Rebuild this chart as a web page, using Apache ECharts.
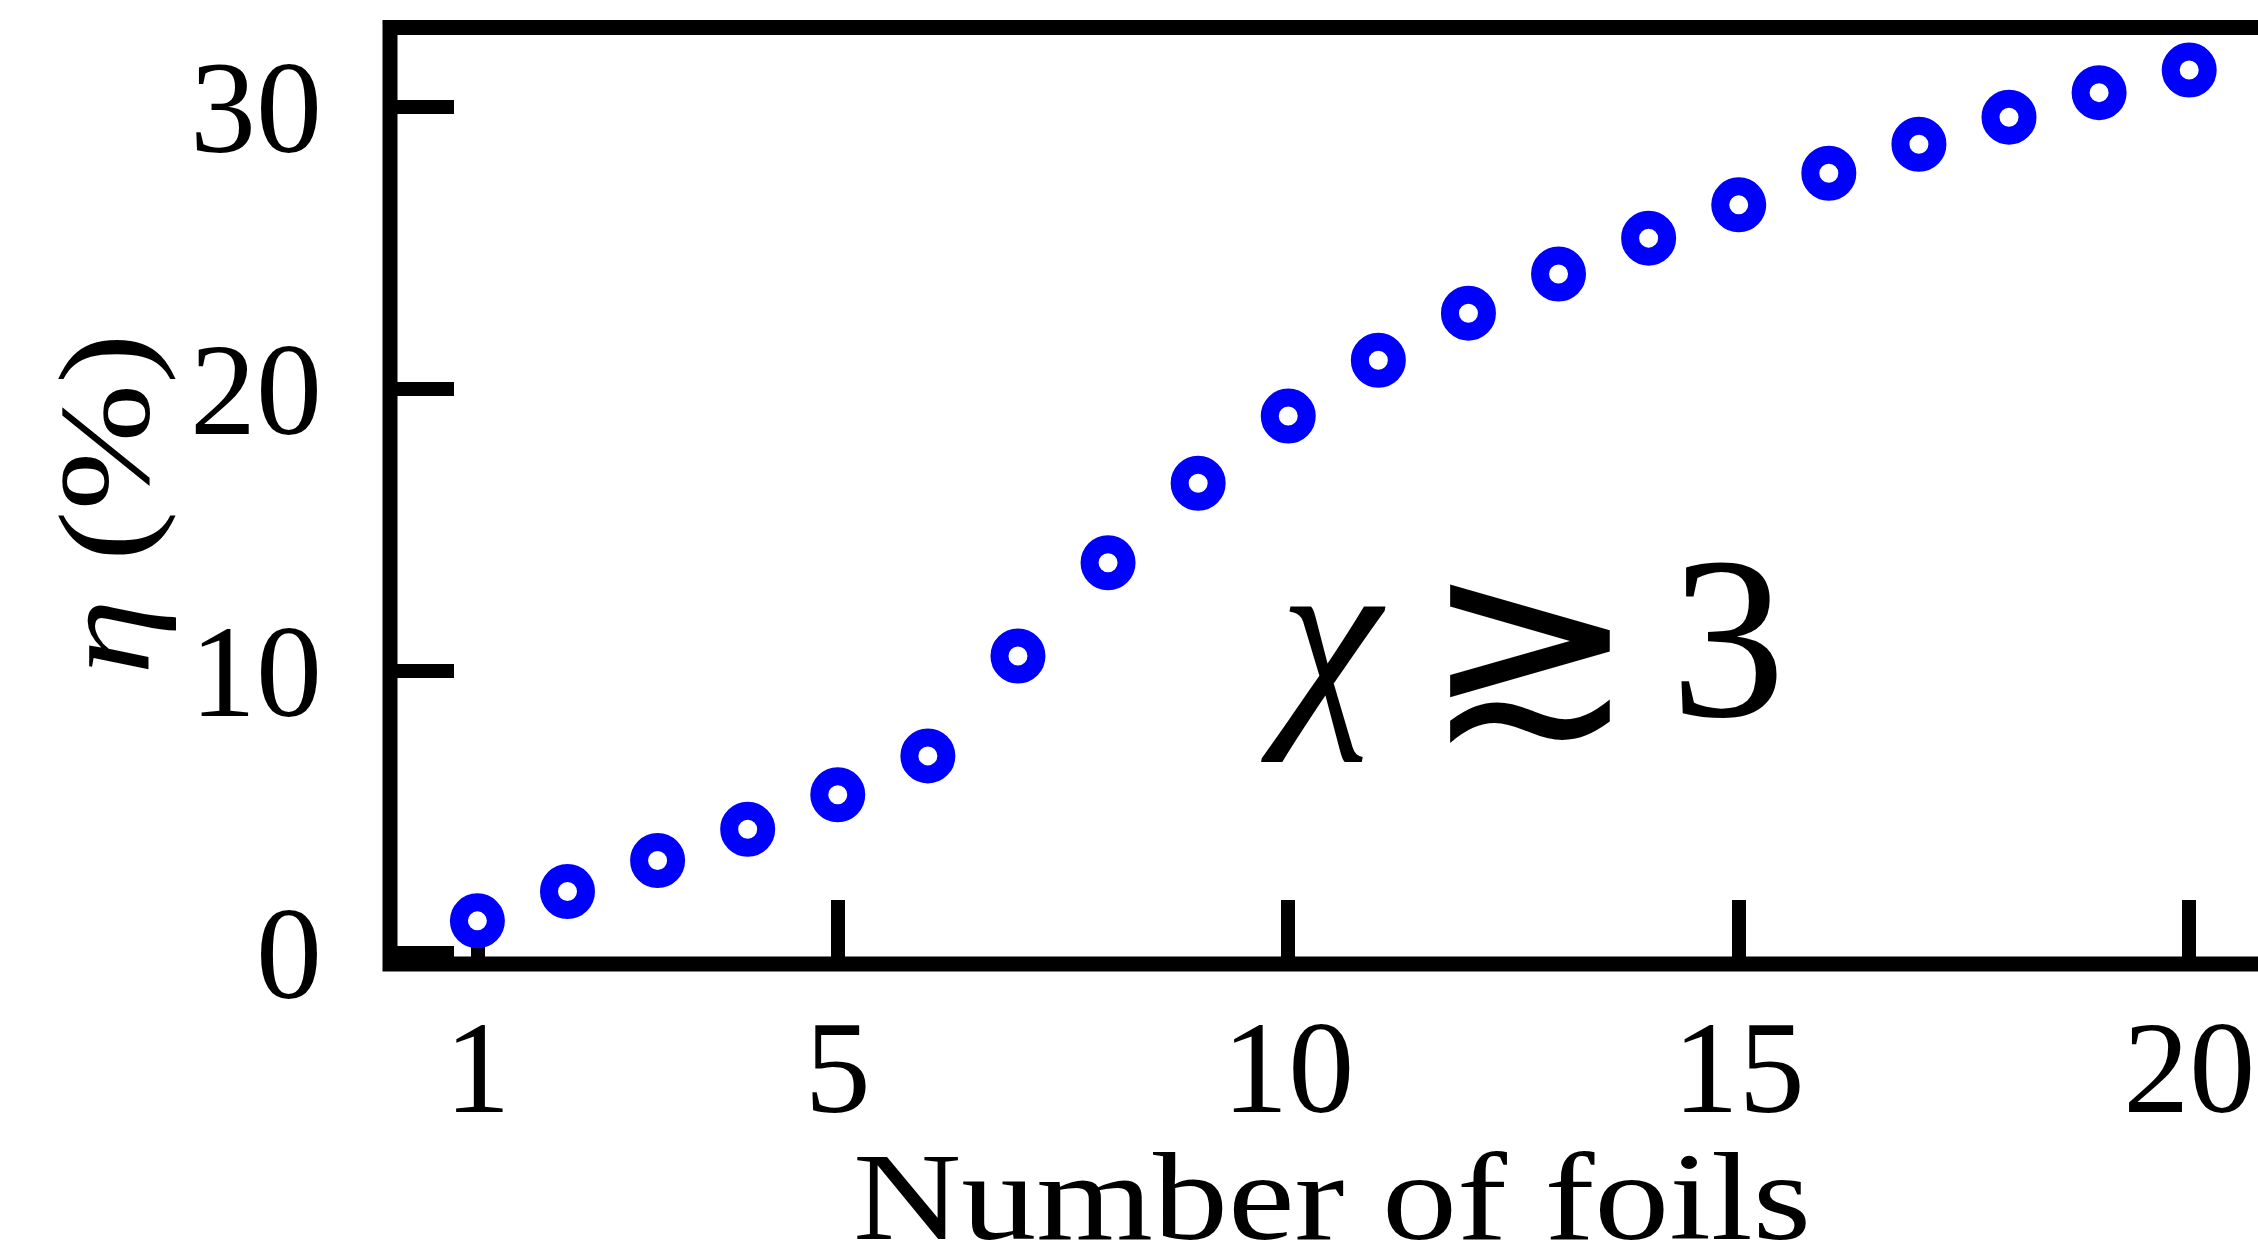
<!DOCTYPE html>
<html>
<head>
<meta charset="utf-8">
<script src="https://cdn.jsdelivr.net/npm/echarts@6/dist/echarts.min.js"></script>
<style>
  html, body { margin: 0; padding: 0; background: #ffffff; }
  #chart { width: 2258px; height: 1257px; }
</style>
</head>
<body>
<div id="chart"></div>
<script>
// Number of foils in the stack
const foils = [1, 2, 3, 4, 5, 6, 7, 8, 9, 10, 11, 12, 13, 14, 15, 16, 17, 18, 19, 20];
// Conversion efficiency eta (%) for chi >~ 3
const eta = [1.12, 2.16, 3.26, 4.37, 5.59, 6.97, 10.51, 13.82, 16.64, 19.02,
             21.0, 22.67, 24.06, 25.33, 26.51, 27.63, 28.66, 29.62, 30.49, 31.29];
// Tick positions / labels
const xTicks = [1, 5, 10, 15, 20];
const yTicks = [0, 10, 20, 30];
// Axis titles
const xTitle = 'Number of foils';
const yTitle = '{i|η} (%)';

const SERIF = '"Liberation Serif", "DejaVu Serif", serif';

const chart = echarts.init(document.getElementById('chart'), null, { renderer: 'canvas' });

const points = foils.map((f, i) => [f, eta[i]]);

chart.setOption({
  animation: false,
  backgroundColor: '#ffffff',
  grid: {
    left: 390,
    top: 27.5,
    width: 1892,
    height: 936.5,
    show: true,
    borderColor: '#000000',
    borderWidth: 15,
    backgroundColor: 'transparent',
    containLabel: false,
    outerBoundsMode: 'none'
  },
  xAxis: {
    type: 'value',
    min: 0.03,
    max: 21.03,
    axisLine: { show: false, onZero: false },
    splitLine: { show: false },
    axisTick: {
      show: true, inside: true, length: 64,
      customValues: xTicks,
      lineStyle: { color: '#000', width: 14 }
    },
    axisLabel: {
      show: true, margin: 47,
      customValues: xTicks,
      fontFamily: SERIF, fontSize: 132, color: '#000'
    }
  },
  yAxis: {
    type: 'value',
    min: -0.41,
    max: 32.8,
    axisLine: { show: false, onZero: false },
    splitLine: { show: false },
    axisTick: {
      show: true, inside: true, length: 64,
      customValues: yTicks,
      lineStyle: { color: '#000', width: 14 }
    },
    axisLabel: {
      show: true, margin: 68,
      customValues: yTicks,
      formatter: v => '{n|' + v + '}',
      rich: {
        n: { fontFamily: SERIF, fontSize: 132, color: '#000', padding: [22, 0, 0, 0] }
      }
    }
  },
  series: [{
    type: 'scatter',
    data: points,
    symbol: 'circle',
    symbolSize: 37,
    z: 5,
    itemStyle: { color: '#ffffff', borderColor: '#0000ff', borderWidth: 18, opacity: 1 }
  }],
  graphic: [
    // x-axis title (slightly widened serif)
    { type: 'text', x: 1332, y: 1206, scaleX: 1.2, z: 10,
      style: { text: xTitle, font: '125px ' + SERIF, fill: '#000', align: 'center', verticalAlign: 'middle' } },
    // y-axis title, rotated
    { type: 'text', x: 114, y: 504, rotation: Math.PI / 2, scaleX: 1.17, z: 10,
      style: {
        text: yTitle, font: '130px ' + SERIF, fill: '#000', align: 'center', verticalAlign: 'middle',
        rich: { i: { fontFamily: SERIF, fontStyle: 'italic', fontSize: 130, fill: '#000' } }
      } },
    // annotation: chi >~ 3
    { type: 'text', x: 1330, y: 653, z: 10,
      style: { text: 'χ', font: 'italic 230px ' + SERIF, fill: '#000', align: 'center', verticalAlign: 'middle' } },
    { type: 'text', x: 1530, y: 666, z: 10,
      style: { text: '≳', font: '255px ' + SERIF, fill: '#000', align: 'center', verticalAlign: 'middle' } },
    { type: 'text', x: 1728, y: 656, z: 10,
      style: { text: '3', font: '230px ' + SERIF, fill: '#000', align: 'center', verticalAlign: 'middle' } }
  ]
});
</script>
</body>
</html>
